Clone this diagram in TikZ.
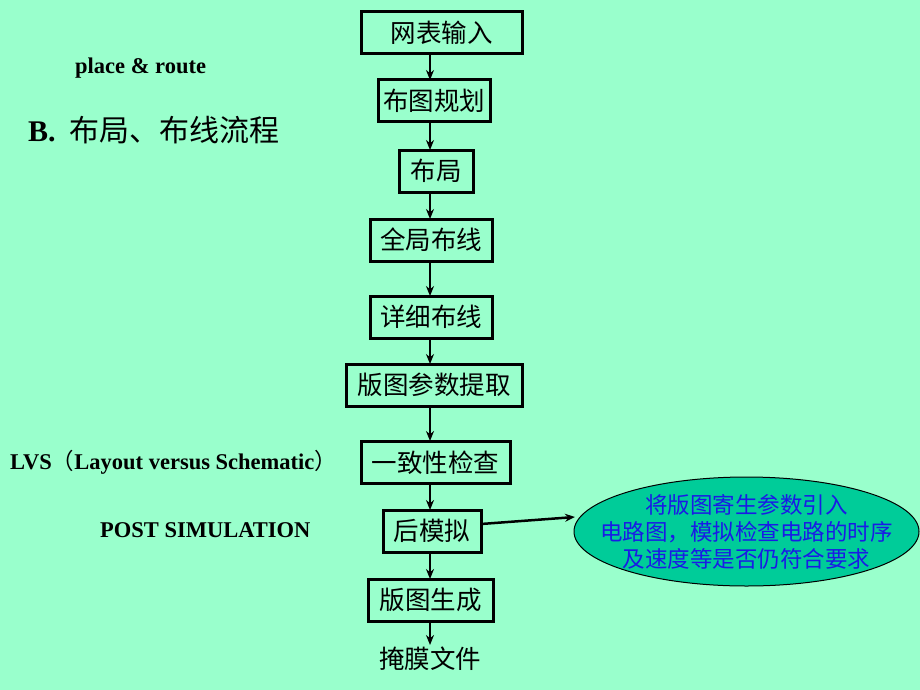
\documentclass[tikz,border=0pt]{standalone}
\usepackage{fontspec}
\setmainfont{Liberation Serif}
\newfontfamily\cjk{Noto Sans CJK SC}
\usetikzlibrary{arrows.meta,shapes.geometric}
\definecolor{bg}{HTML}{99FFCC}
\definecolor{ellfill}{HTML}{00CC99}
\definecolor{txtblue}{HTML}{1A1AE6}
\begin{document}
\begin{tikzpicture}[x=1pt,y=-1pt,
  stepbox/.style={draw=black,line width=3pt,minimum height=42pt,inner sep=0pt,font=\cjk\fontsize{25.5}{28}\selectfont},
  flow/.style={draw=black,line width=2pt,-{Stealth[length=10pt,width=8pt]}},
  lbl/.style={font=\bfseries\fontsize{22.5}{26}\selectfont,anchor=west,inner sep=0pt}]
\fill[bg] (0,0) rectangle (920,690);
\useasboundingbox (0,0) rectangle (920,690);
\node[stepbox,minimum width=161pt] (n1) at (441.5,33) {网表输入};
\node[stepbox,minimum width=112pt] (n2) at (434,101) {布图规划};
\node[stepbox,minimum width=74pt] (n3) at (436,171) {布局};
\node[stepbox,minimum width=122pt] (n4) at (431,240) {全局布线};
\node[stepbox,minimum width=122pt] (n5) at (431,317) {详细布线};
\node[stepbox,minimum width=176pt] (n6) at (434,385) {版图参数提取};
\node[stepbox,minimum width=149pt] (n7) at (435.5,462.5) {一致性检查};
\node[stepbox,minimum width=98pt] (n8) at (432,531) {后模拟};
\node[stepbox,minimum width=125pt] (n9) at (430.5,600) {版图生成};
\node[font=\cjk\fontsize{25.5}{28}\selectfont,inner sep=0pt] (n10) at (430,659) {掩膜文件};
\draw[flow] (430,54) -- (430,80);
\draw[flow] (430,122) -- (430,150);
\draw[flow] (430,192) -- (430,219);
\draw[flow] (430,261) -- (430,296);
\draw[flow] (430,338) -- (430,364);
\draw[flow] (430,406) -- (430,441);
\draw[flow] (430,484) -- (430,510);
\draw[flow] (430,552) -- (430,579);
\draw[flow] (430,621) -- (430,645);
\node[ellipse,draw=black,line width=1pt,fill=ellfill,minimum width=345pt,minimum height=109pt,inner sep=0pt] (el) at (746.5,531.5) {};
\node[font=\cjk\fontsize{22.5}{27}\selectfont,text=txtblue,align=center] (eltxt) at (el.center) {将版图寄生参数引入\\电路图，模拟检查电路的时序\\及速度等是否仍符合要求};
\coordinate (arrs) at (481,524);
\draw[flow,line width=2.5pt] (arrs) -- (575,517);
\node[lbl] (t1) at (75,68) {place \& route};
\node[font=\fontsize{30}{33}\selectfont,anchor=west,inner sep=0pt] (t2) at (28,130) {\textbf{B.}\hspace{14pt}{\cjk 布局、布线流程}};
\node[lbl] (t3) at (10,462) {LVS{\cjk\mdseries （}Layout versus Schematic{\cjk\mdseries ）}};
\node[lbl] (t4) at (100,530) {POST SIMULATION};
\end{tikzpicture}
\end{document}
